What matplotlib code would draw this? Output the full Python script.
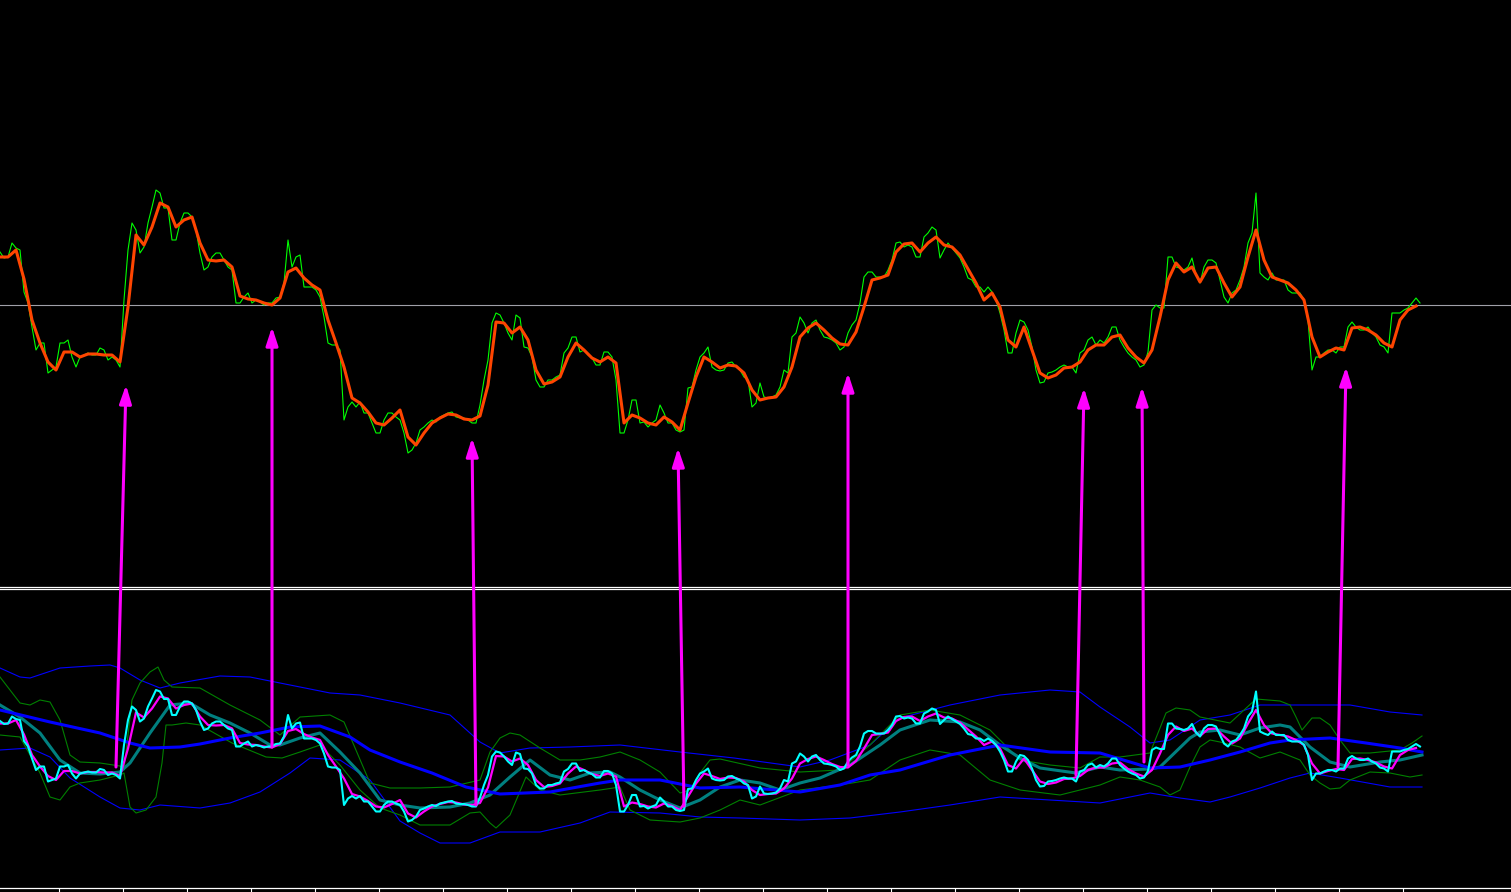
import numpy as np
import matplotlib.pyplot as plt
from matplotlib.patches import ConnectionPatch

# price line (green on top, cyan below), one value every 2 bars
close = [348, 342, 343, 357, 352, 350, 308, 297, 273, 250, 257, 257, 227, 230, 233, 257, 257, 260, 243, 233,
         243, 245, 247, 245, 245, 252, 250, 240, 243, 240, 233, 300, 350, 377, 370, 347, 353, 377, 393, 410,
         407, 392, 392, 360, 360, 377, 387, 387, 383, 370, 347, 330, 333, 343, 347, 347, 340, 333, 330, 297,
         297, 303, 307, 297, 300, 298, 295, 297, 297, 302, 303, 317, 360, 333, 343, 345, 313, 313, 313, 310,
         303, 283, 257, 255, 255, 250, 180, 193, 198, 193, 198, 187, 187, 177, 167, 167, 180, 187, 187, 183,
         180, 167, 147, 150, 157, 170, 173, 177, 180, 178, 183, 185, 187, 188, 183, 182, 182, 180, 177, 177,
         195, 220, 240, 277, 287, 285, 277, 267, 260, 285, 282, 253, 252, 243, 220, 213, 213, 220, 220, 223,
         225, 247, 252, 263, 263, 248, 250, 245, 242, 235, 235, 248, 248, 243, 220, 167, 167, 180, 200, 200,
         177, 178, 173, 177, 180, 195, 187, 177, 177, 170, 168, 170, 212, 213, 230, 243, 247, 253, 233, 230,
         229, 230, 237, 238, 233, 230, 223, 220, 193, 197, 217, 203, 202, 203, 205, 213, 230, 227, 263, 267,
         283, 277, 267, 277, 280, 270, 263, 262, 260, 257, 250, 253, 267, 275, 280, 297, 323, 328, 328, 323,
         323, 323, 330, 340, 357, 358, 353, 355, 353, 343, 343, 363, 367, 373, 370, 342, 350, 357, 352, 347,
         342, 333, 322, 320, 313, 313, 308, 313, 308, 300, 287, 270, 247, 247, 267, 280, 278, 270, 253, 230,
         217, 218, 227, 228, 230, 233, 235, 233, 233, 227, 247, 250, 260, 263, 255, 260, 257, 263, 273, 273,
         260, 253, 247, 243, 240, 233, 235, 248, 290, 295, 292, 292, 343, 343, 333, 332, 330, 333, 342, 325,
         317, 333, 340, 340, 337, 320, 303, 297, 307, 310, 320, 333, 357, 367, 407, 327, 323, 320, 327, 320,
         320, 320, 310, 307, 307, 307, 300, 280, 230, 243, 243, 247, 250, 250, 247, 253, 253, 273, 278, 273,
         270, 270, 273, 267, 263, 255, 253, 247, 287, 287, 287, 290, 292, 297, 302, 297]

# fast moving average (orange on top, magenta below), one value every 4 bars
fast_ma = [343, 343, 350, 321, 280, 257, 238, 230, 248, 248, 243, 246, 246, 245, 245, 238,
           293, 365, 355, 373, 397, 393, 373, 380, 383, 357, 340, 339, 340, 333,
           304, 301, 300, 297, 295, 302, 328, 332, 322, 315, 310, 280, 257, 233, 202,
           197, 188, 177, 175, 182, 190, 163, 155, 167, 177, 182, 186, 185, 181, 180,
           184, 215, 278, 277, 267, 273, 260, 230, 216, 218, 223, 243, 257, 250, 242,
           238, 243, 237, 177, 185, 182, 177, 175, 183, 178, 170, 197, 223, 243, 238,
           232, 235, 234, 227, 210, 200, 202, 203, 213, 233, 263, 272, 277, 270, 262,
           256, 255, 268, 293, 320, 322, 325, 348, 356, 357, 348, 357, 363, 355, 353,
           345, 331, 317, 300, 307, 293, 260, 253, 273, 250, 227, 222, 225, 232, 233,
           238, 250, 255, 255, 263, 265, 252, 243, 237, 250, 283, 320, 337, 328, 333,
           318, 332, 333, 317, 303, 313, 343, 370, 340, 323, 320, 317, 310, 300,
           263, 243, 248, 252, 250, 272, 273, 270, 265, 257, 253, 280, 290, 294]

# slow moving average (teal)
slow_x = [0, 10, 20, 30, 40, 50, 60, 65, 75, 85, 95, 105, 115, 125, 135, 140, 150, 160, 170, 180,
          190, 200, 210, 225, 235, 245, 255, 265, 275, 285, 295, 305, 310, 320, 330, 340, 350, 360,
          370, 380, 390, 400, 410, 425, 440, 450, 465, 480, 490, 500, 510, 520, 538, 550, 560, 575,
          580, 595, 600, 610, 620, 630, 640, 645, 655, 665, 675, 690, 700, 711]
slow_ma = [380, 356, 324, 270, 244, 242, 246, 264, 324, 380, 384, 360, 344, 324, 300, 300, 314,
           324, 286, 244, 190, 180, 174, 176, 184, 200, 236, 270, 240, 230, 244, 246, 236, 210,
           190, 174, 190, 216, 230, 224, 210, 224, 234, 260, 300, 330, 350, 346, 330, 300, 274,
           254, 244, 256, 250, 252, 256, 314, 326, 330, 320, 334, 340, 336, 296, 266, 256, 266,
           270, 280]

# long moving average (thick blue) and its bands (thin blue)
long_x = [0, 25, 50, 65, 75, 90, 100, 115, 130, 145, 160, 175, 185, 200, 216, 233, 250, 275, 300,
          310, 330, 340, 350, 370, 400, 420, 435, 450, 475, 500, 525, 550, 565, 575, 590, 605, 620,
          635, 645, 665, 683, 700, 711]
long_ma = [370, 346, 324, 304, 294, 296, 302, 314, 324, 336, 338, 316, 290, 266, 244, 216, 202,
           206, 224, 230, 230, 222, 214, 216, 206, 220, 240, 250, 280, 300, 286, 284, 266, 254,
           256, 270, 286, 304, 310, 314, 304, 294, 286]

upper_x = [0, 10, 15, 30, 45, 55, 60, 70, 80, 90, 110, 125, 145, 165, 180, 200, 225, 240, 250,
           265, 285, 310, 340, 367, 400, 415, 435, 450, 475, 500, 525, 540, 550, 565, 575, 585,
           600, 615, 630, 650, 675, 695, 711]
upper_band = [454, 436, 434, 454, 458, 460, 454, 430, 414, 424, 438, 436, 420, 404, 400, 384,
              360, 306, 284, 294, 296, 300, 286, 274, 256, 270, 300, 354, 380, 400, 410, 406,
              376, 336, 304, 310, 350, 360, 380, 380, 380, 366, 360]

lower_x = [0, 15, 25, 35, 50, 60, 70, 80, 100, 115, 130, 145, 155, 170, 185, 200, 210, 220, 235,
           250, 270, 290, 305, 330, 350, 370, 400, 425, 450, 475, 500, 525, 550, 575, 590, 605,
           615, 630, 645, 655, 670, 695, 711]
lower_band = [290, 294, 276, 234, 196, 174, 170, 180, 174, 184, 206, 244, 274, 270, 230, 148,
              124, 104, 104, 126, 126, 144, 166, 164, 156, 154, 150, 154, 166, 180, 196, 190,
              184, 204, 194, 186, 196, 214, 234, 244, 234, 216, 216]

# bands around the slow average (thin green)
env_up_x = [0, 5, 10, 15, 20, 25, 30, 35, 40, 50, 60, 62, 66, 70, 75, 79, 82, 86, 100, 115,
            130, 140, 150, 165, 172, 185, 195, 210, 225, 240, 245, 250, 255, 260, 270, 280, 290,
            300, 310, 320, 330, 340, 345, 350, 355, 360, 380, 400, 420, 435, 450, 465, 480, 495,
            510, 525, 540, 550, 560, 575, 583, 588, 595, 600, 615, 628, 640, 645, 648, 651, 656,
            660, 665, 670, 675, 685, 700, 706, 711]
env_up = [436, 410, 384, 380, 390, 386, 350, 280, 266, 264, 258, 250, 390, 424, 446, 456, 430,
          416, 414, 380, 350, 320, 356, 360, 346, 224, 214, 214, 216, 230, 286, 314, 324, 320,
          294, 270, 270, 276, 286, 270, 246, 204, 210, 244, 270, 272, 254, 246, 250, 300, 360,
          370, 360, 330, 270, 260, 254, 276, 276, 284, 364, 374, 370, 356, 344, 392, 388, 380,
          356, 330, 354, 354, 340, 310, 284, 284, 290, 304, 318]

env_dn_x = [0, 10, 15, 20, 25, 30, 35, 40, 50, 60, 62, 65, 68, 73, 78, 81, 83, 86, 93, 100,
            116, 133, 141, 150, 160, 170, 180, 190, 200, 210, 225, 235, 240, 245, 248, 255, 263,
            270, 280, 300, 310, 315, 325, 340, 350, 360, 370, 380, 400, 420, 435, 450, 465, 480,
            495, 510, 530, 550, 560, 570, 580, 585, 590, 595, 600, 605, 610, 620, 630, 640, 650,
            655, 660, 665, 670, 675, 685, 695, 705, 711]
env_dn = [320, 316, 280, 244, 196, 190, 216, 224, 230, 240, 244, 176, 164, 170, 196, 264, 340,
          340, 344, 340, 304, 276, 274, 286, 300, 260, 210, 174, 160, 140, 140, 164, 166, 144,
          134, 160, 236, 210, 200, 210, 216, 170, 150, 146, 154, 170, 190, 180, 210, 220, 230,
          270, 290, 280, 230, 210, 200, 220, 236, 230, 216, 200, 210, 256, 296, 310, 306, 296,
          274, 286, 270, 240, 224, 212, 214, 230, 246, 244, 236, 240]

# magenta arrows: start in the lower panel, point at the upper panel
arrow_tail_x = [58, 136, 238, 342, 424, 538, 572, 669]
arrow_tail_y = [256, 296, 180, 178, 260, 240, 266, 256]
arrow_head_x = [63, 136, 236, 339, 424, 542, 571, 673]
arrow_head_y = [215, 273, 162, 152, 227, 212, 213, 233]

level = 295

close_x = np.arange(len(close)) * 2
fast_x = np.arange(len(fast_ma)) * 4

fig = plt.figure(figsize=(15.11, 8.92), dpi=100, facecolor='black')
ax1 = fig.add_axes([0, 305 / 892, 1, 587 / 892])
ax2 = fig.add_axes([0, 4 / 892, 1, 299 / 892])

for ax in (ax1, ax2):
    ax.set_facecolor('black')
    ax.set_xlim(0, 755.5)
    for side in ('left', 'right'):
        ax.spines[side].set_visible(False)
    ax.set_yticks([])

ax1.spines['top'].set_visible(False)
ax1.spines['bottom'].set_color('white')
ax1.spines['bottom'].set_linewidth(0.9)
ax1.set_xticks([])
ax1.set_ylim(13, 600)

ax2.spines['top'].set_color('white')
ax2.spines['top'].set_linewidth(0.9)
ax2.spines['bottom'].set_color('white')
ax2.spines['bottom'].set_linewidth(0.9)
ax2.set_ylim(14, 612)
ax2.set_xticks(np.arange(29.25, 702, 32))
ax2.tick_params(axis='x', direction='out', length=3, width=0.8, colors='white', labelbottom=False)

# top panel
ax1.axhline(level, color='#a0a0a8', lw=0.8)
ax1.plot(close_x, close, color='#00ff00', lw=0.8)
ax1.plot(fast_x, fast_ma, color='#ff4500', lw=2.2)

# bottom panel
ax2.plot(upper_x, upper_band, color='#0000ff', lw=0.8)
ax2.plot(lower_x, lower_band, color='#0000ff', lw=0.8)
ax2.plot(env_up_x, env_up, color='#008000', lw=0.8)
ax2.plot(env_dn_x, env_dn, color='#008000', lw=0.8)
ax2.plot(slow_x, slow_ma, color='#008080', lw=2.2)
ax2.plot(long_x, long_ma, color='#0000ff', lw=2.2)
ax2.plot(fast_x, fast_ma, color='#ff00ff', lw=1.6)
ax2.plot(close_x, close, color='#00ffff', lw=1.5)

for tx, ty, hx, hy in zip(arrow_tail_x, arrow_tail_y, arrow_head_x, arrow_head_y):
    arrow = ConnectionPatch(xyA=(tx, ty), coordsA=ax2.transData,
                            xyB=(hx, hy), coordsB=ax1.transData,
                            arrowstyle='-|>,head_length=11,head_width=3.6',
                            mutation_scale=1, shrinkA=0, shrinkB=0,
                            color='#ff00ff', lw=2.2)
    fig.add_artist(arrow)

fig.savefig('out.png', dpi=100, facecolor='black')
